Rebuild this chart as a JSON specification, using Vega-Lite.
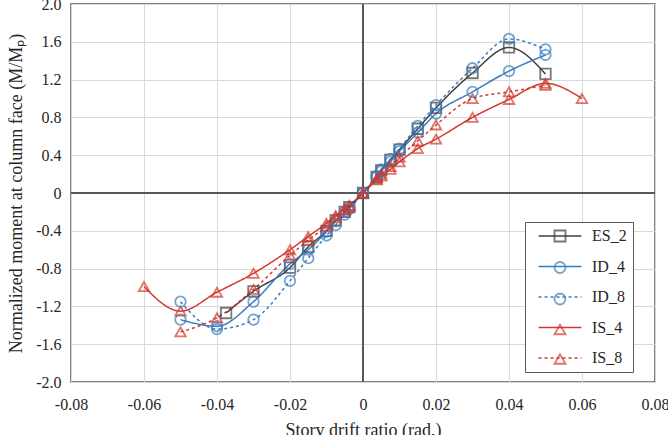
{
  "$schema": "https://vega.github.io/schema/vega-lite/v6.json",
  "width": 584,
  "height": 378,
  "autosize": {"type": "none"},
  "padding": {"left": 71, "top": 4, "right": 13, "bottom": 53},
  "background": "white",
  "config": {
    "font": "Liberation Serif",
    "view": {"stroke": "#595959", "strokeWidth": 1.5},
    "axis": {"gridColor": "#d9d9d9", "gridWidth": 1, "domain": false, "ticks": false, "labelFlush": false, "labelFont": "Liberation Serif", "labelFontSize": 16, "labelColor": "#262626", "titleFont": "Liberation Serif", "titleFontSize": 18, "titleFontWeight": "normal", "titleColor": "#262626"},
    "legend": {"labelFont": "Liberation Serif", "labelFontSize": 16, "labelColor": "#262626"}
  },
  "data": {"values": [
    {"s": "ES_2", "x": -0.0375, "y": -1.27},
    {"s": "ES_2", "x": -0.03, "y": -1.04},
    {"s": "ES_2", "x": -0.02, "y": -0.79},
    {"s": "ES_2", "x": -0.015, "y": -0.57},
    {"s": "ES_2", "x": -0.01, "y": -0.4},
    {"s": "ES_2", "x": -0.0075, "y": -0.29},
    {"s": "ES_2", "x": -0.005, "y": -0.2},
    {"s": "ES_2", "x": -0.00375, "y": -0.15},
    {"s": "ES_2", "x": 0, "y": 0},
    {"s": "ES_2", "x": 0.00375, "y": 0.17},
    {"s": "ES_2", "x": 0.005, "y": 0.24},
    {"s": "ES_2", "x": 0.0075, "y": 0.35},
    {"s": "ES_2", "x": 0.01, "y": 0.46},
    {"s": "ES_2", "x": 0.015, "y": 0.68},
    {"s": "ES_2", "x": 0.02, "y": 0.9},
    {"s": "ES_2", "x": 0.03, "y": 1.27},
    {"s": "ES_2", "x": 0.04, "y": 1.54},
    {"s": "ES_2", "x": 0.05, "y": 1.26},
    {"s": "ID_4", "x": -0.05, "y": -1.34},
    {"s": "ID_4", "x": -0.04, "y": -1.41},
    {"s": "ID_4", "x": -0.03, "y": -1.15},
    {"s": "ID_4", "x": -0.02, "y": -0.75},
    {"s": "ID_4", "x": -0.015, "y": -0.6},
    {"s": "ID_4", "x": -0.01, "y": -0.41},
    {"s": "ID_4", "x": -0.0075, "y": -0.3},
    {"s": "ID_4", "x": -0.005, "y": -0.2},
    {"s": "ID_4", "x": -0.00375, "y": -0.15},
    {"s": "ID_4", "x": 0, "y": 0},
    {"s": "ID_4", "x": 0.00375, "y": 0.17},
    {"s": "ID_4", "x": 0.005, "y": 0.23},
    {"s": "ID_4", "x": 0.0075, "y": 0.33},
    {"s": "ID_4", "x": 0.01, "y": 0.44},
    {"s": "ID_4", "x": 0.015, "y": 0.64},
    {"s": "ID_4", "x": 0.02, "y": 0.84},
    {"s": "ID_4", "x": 0.03, "y": 1.07},
    {"s": "ID_4", "x": 0.04, "y": 1.29},
    {"s": "ID_4", "x": 0.05, "y": 1.46},
    {"s": "ID_8", "x": -0.05, "y": -1.15},
    {"s": "ID_8", "x": -0.04, "y": -1.44},
    {"s": "ID_8", "x": -0.03, "y": -1.34},
    {"s": "ID_8", "x": -0.02, "y": -0.93},
    {"s": "ID_8", "x": -0.015, "y": -0.69},
    {"s": "ID_8", "x": -0.01, "y": -0.45},
    {"s": "ID_8", "x": -0.0075, "y": -0.34},
    {"s": "ID_8", "x": -0.005, "y": -0.23},
    {"s": "ID_8", "x": -0.00375, "y": -0.17},
    {"s": "ID_8", "x": 0, "y": 0},
    {"s": "ID_8", "x": 0.00375, "y": 0.18},
    {"s": "ID_8", "x": 0.005, "y": 0.25},
    {"s": "ID_8", "x": 0.0075, "y": 0.36},
    {"s": "ID_8", "x": 0.01, "y": 0.47},
    {"s": "ID_8", "x": 0.015, "y": 0.71},
    {"s": "ID_8", "x": 0.02, "y": 0.93},
    {"s": "ID_8", "x": 0.03, "y": 1.32},
    {"s": "ID_8", "x": 0.04, "y": 1.63},
    {"s": "ID_8", "x": 0.05, "y": 1.52},
    {"s": "IS_4", "x": -0.06, "y": -0.99},
    {"s": "IS_4", "x": -0.05, "y": -1.25},
    {"s": "IS_4", "x": -0.04, "y": -1.05},
    {"s": "IS_4", "x": -0.03, "y": -0.85},
    {"s": "IS_4", "x": -0.02, "y": -0.6},
    {"s": "IS_4", "x": -0.015, "y": -0.46},
    {"s": "IS_4", "x": -0.01, "y": -0.32},
    {"s": "IS_4", "x": -0.0075, "y": -0.24},
    {"s": "IS_4", "x": -0.005, "y": -0.17},
    {"s": "IS_4", "x": -0.00375, "y": -0.13},
    {"s": "IS_4", "x": 0, "y": 0},
    {"s": "IS_4", "x": 0.00375, "y": 0.14},
    {"s": "IS_4", "x": 0.005, "y": 0.18},
    {"s": "IS_4", "x": 0.0075, "y": 0.25},
    {"s": "IS_4", "x": 0.01, "y": 0.33},
    {"s": "IS_4", "x": 0.015, "y": 0.47},
    {"s": "IS_4", "x": 0.02, "y": 0.57},
    {"s": "IS_4", "x": 0.03, "y": 0.8},
    {"s": "IS_4", "x": 0.04, "y": 0.99},
    {"s": "IS_4", "x": 0.05, "y": 1.16},
    {"s": "IS_4", "x": 0.06, "y": 1.0},
    {"s": "IS_8", "x": -0.05, "y": -1.47},
    {"s": "IS_8", "x": -0.04, "y": -1.32},
    {"s": "IS_8", "x": -0.03, "y": -1.02},
    {"s": "IS_8", "x": -0.02, "y": -0.66},
    {"s": "IS_8", "x": -0.015, "y": -0.5},
    {"s": "IS_8", "x": -0.01, "y": -0.35},
    {"s": "IS_8", "x": -0.0075, "y": -0.26},
    {"s": "IS_8", "x": -0.005, "y": -0.18},
    {"s": "IS_8", "x": -0.00375, "y": -0.14},
    {"s": "IS_8", "x": 0, "y": 0},
    {"s": "IS_8", "x": 0.00375, "y": 0.15},
    {"s": "IS_8", "x": 0.005, "y": 0.2},
    {"s": "IS_8", "x": 0.0075, "y": 0.28},
    {"s": "IS_8", "x": 0.01, "y": 0.38},
    {"s": "IS_8", "x": 0.015, "y": 0.55},
    {"s": "IS_8", "x": 0.02, "y": 0.72},
    {"s": "IS_8", "x": 0.03, "y": 1.0},
    {"s": "IS_8", "x": 0.04, "y": 1.07},
    {"s": "IS_8", "x": 0.05, "y": 1.14}
  ]},
  "encoding": {
    "x": {"field": "x", "type": "quantitative", "scale": {"domain": [-0.08, 0.08], "nice": false}, "axis": {"values": [-0.08, -0.06, -0.04, -0.02, 0, 0.02, 0.04, 0.06, 0.08], "labelExpr": "datum.value == 0 ? '0' : replace(format(datum.value, '.2f'), '−', '-')", "labelPadding": 14, "title": "Story drift ratio (rad.)", "titlePadding": 9}},
    "y": {"field": "y", "type": "quantitative", "scale": {"domain": [-2, 2], "nice": false}, "axis": {"values": [-2, -1.6, -1.2, -0.8, -0.4, 0, 0.4, 0.8, 1.2, 1.6, 2], "labelExpr": "datum.value == 0 ? '0' : replace(format(datum.value, '.1f'), '−', '-')", "labelPadding": 10, "title": "Normalized moment at column face  (M/Mₚ)", "titlePadding": 10}}
  },
  "layer": [
    {"mark": {"type": "rule", "color": "#595959", "strokeWidth": 1.5}, "encoding": {"x": {"datum": 0}, "y": null}},
    {"mark": {"type": "rule", "color": "#595959", "strokeWidth": 1.5}, "encoding": {"y": {"datum": 0}, "x": null}},
    {
      "mark": {"type": "line", "interpolate": "monotone", "strokeWidth": 1.5},
      "encoding": {
        "order": {"field": "x", "type": "quantitative"},
        "color": {"field": "s", "type": "nominal", "scale": {"domain": ["ES_2", "ID_4", "ID_8", "IS_4", "IS_8"], "range": ["#404040", "#3a7dc0", "#3a7dc0", "#d4382c", "#d4382c"]}, "legend": {"orient": "none", "legendX": 454, "legendY": 218, "title": null, "symbolType": "M-3.9,0H3.9", "symbolSize": 121, "symbolStrokeWidth": 1.5, "symbolOffset": 21, "labelOffset": 24, "padding": 6, "rowPadding": 14.5, "fillColor": "white", "strokeColor": "#595959"}},
        "strokeDash": {"field": "s", "type": "nominal", "scale": {"domain": ["ES_2", "ID_4", "ID_8", "IS_4", "IS_8"], "range": [[1, 0], [1, 0], [3, 3], [1, 0], [3, 3]]}, "legend": {"orient": "none", "legendX": 454, "legendY": 218, "title": null, "symbolType": "M-3.9,0H3.9", "symbolSize": 121, "symbolStrokeWidth": 1.5, "symbolOffset": 21, "labelOffset": 24, "padding": 6, "rowPadding": 14.5, "fillColor": "white", "strokeColor": "#595959"}}
      }
    },
    {
      "mark": {"type": "point", "filled": false, "size": 110, "strokeWidth": 1.8},
      "encoding": {
        "color": {"field": "s", "type": "nominal", "legend": {"orient": "none", "legendX": 454, "legendY": 218, "title": null, "symbolSize": 121, "symbolStrokeWidth": 1.8, "symbolOffset": 21, "labelExpr": "''", "labelOffset": 0, "padding": 6, "rowPadding": 11.5}},
        "shape": {"field": "s", "type": "nominal", "scale": {"domain": ["ES_2", "ID_4", "ID_8", "IS_4", "IS_8"], "range": ["square", "circle", "circle", "triangle-up", "triangle-up"]}, "legend": {"orient": "none", "legendX": 454, "legendY": 218, "title": null, "symbolSize": 121, "symbolStrokeWidth": 1.8, "symbolOffset": 21, "labelExpr": "''", "labelOffset": 0, "padding": 6, "rowPadding": 11.5}}
      }
    }
  ],
  "resolve": {"legend": {"color": "independent", "strokeDash": "independent", "shape": "independent"}}
}
